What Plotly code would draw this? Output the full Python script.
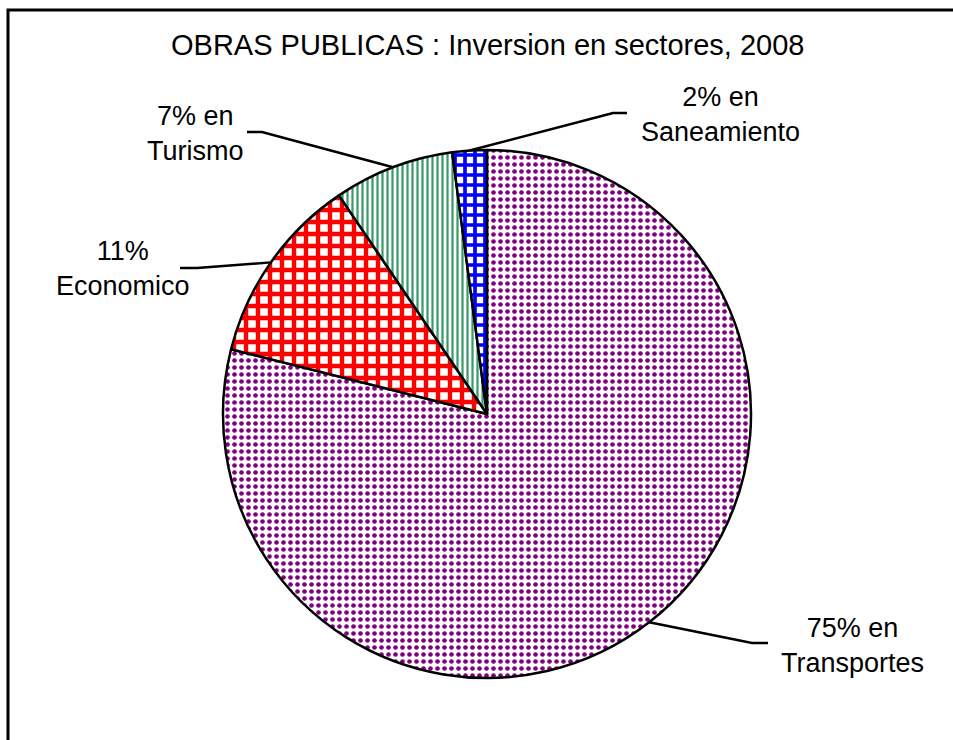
import math
import plotly.graph_objects as go

# Sector investment shares (percent), drawn clockwise from 12 o'clock
sectors = ["Transportes", "Economico", "Turismo", "Saneamiento"]
shares = [75, 11, 7, 2]
label_text = ["75% en<br>Transportes", "11%<br>Economico", "7% en<br>Turismo", "2% en<br>Saneamiento"]

fills = ["#800080", "#ff0000", "#3a9a6a", "#0000ff"]
shapes_kind = [".", "+", "|", "+"]
pattern_size = [7, 12, 5, 10]
pattern_solid = [0.35, 0.6, 0.45, 0.6]

W, H = 953, 740
FONT = "Liberation Sans, Arial, sans-serif"

# pie placement (pixels)
cx, cy, R = 487, 414, 264

fig = go.Figure(
    go.Pie(
        labels=sectors,
        values=shares,
        sort=False,
        direction="clockwise",
        rotation=0,
        textinfo="none",
        hoverinfo="label+value",
        marker=dict(
            colors=["white"] * 4,
            line=dict(color="black", width=2.5),
            pattern=dict(
                shape=shapes_kind,
                fgcolor=fills,
                bgcolor=["white"] * 4,
                fgopacity=1,
                size=pattern_size,
                solidity=pattern_solid,
                fillmode="overlay",
            ),
        ),
        domain=dict(
            x=[(cx - R) / W, (cx + R) / W],
            y=[1 - (cy + R) / H, 1 - (cy - R) / H],
        ),
        showlegend=False,
    )
)


def px(x, y):
    return x / W, 1 - y / H


# label placement: elbow point, line end, text centre
label_layout = [
    dict(elbow=(752, 643), end=(768, 643), text=(852, 645)),
    dict(elbow=(197, 268), end=(180, 268), text=(123, 268)),
    dict(elbow=(262, 132), end=(247, 132), text=(195, 133)),
    dict(elbow=(613, 113), end=(627, 113), text=(720, 115)),
]

total = sum(shares)
shapes = []
annotations = []
cum = 0.0
for v, txt, lay in zip(shares, label_text, label_layout):
    mid = 2 * math.pi * (cum + v / 2) / total
    cum += v
    sx = cx + R * math.sin(mid)
    sy = cy - R * math.cos(mid)
    ex, ey = lay["elbow"]
    fx, fy = lay["end"]
    x0, y0 = px(sx, sy)
    x1, y1 = px(ex, ey)
    x2, y2 = px(fx, fy)
    shapes.append(dict(type="path", xref="paper", yref="paper",
                       path=f"M{x0},{y0} L{x1},{y1} L{x2},{y2}",
                       line=dict(color="black", width=2.5)))
    tx, ty = px(*lay["text"])
    annotations.append(dict(x=tx, y=ty, xref="paper", yref="paper", text=txt,
                            showarrow=False, xanchor="center", yanchor="middle",
                            align="center", font=dict(family=FONT, size=27, color="black")))

# chart frame
shapes.append(dict(type="rect", xref="paper", yref="paper",
                   x0=8 / W, y0=-0.02, x1=1.02, y1=1 - 10 / H,
                   line=dict(color="black", width=3), fillcolor="rgba(0,0,0,0)"))

annotations.append(dict(x=488 / W, y=1 - 45 / H, xref="paper", yref="paper",
                        text="OBRAS PUBLICAS : Inversion en sectores, 2008",
                        showarrow=False, xanchor="center", yanchor="middle",
                        font=dict(family=FONT, size=29, color="black")))

fig.update_layout(
    width=W, height=H,
    margin=dict(l=0, r=0, t=0, b=0),
    paper_bgcolor="white",
    plot_bgcolor="white",
    shapes=shapes,
    annotations=annotations,
)

fig.write_html("out.html")
